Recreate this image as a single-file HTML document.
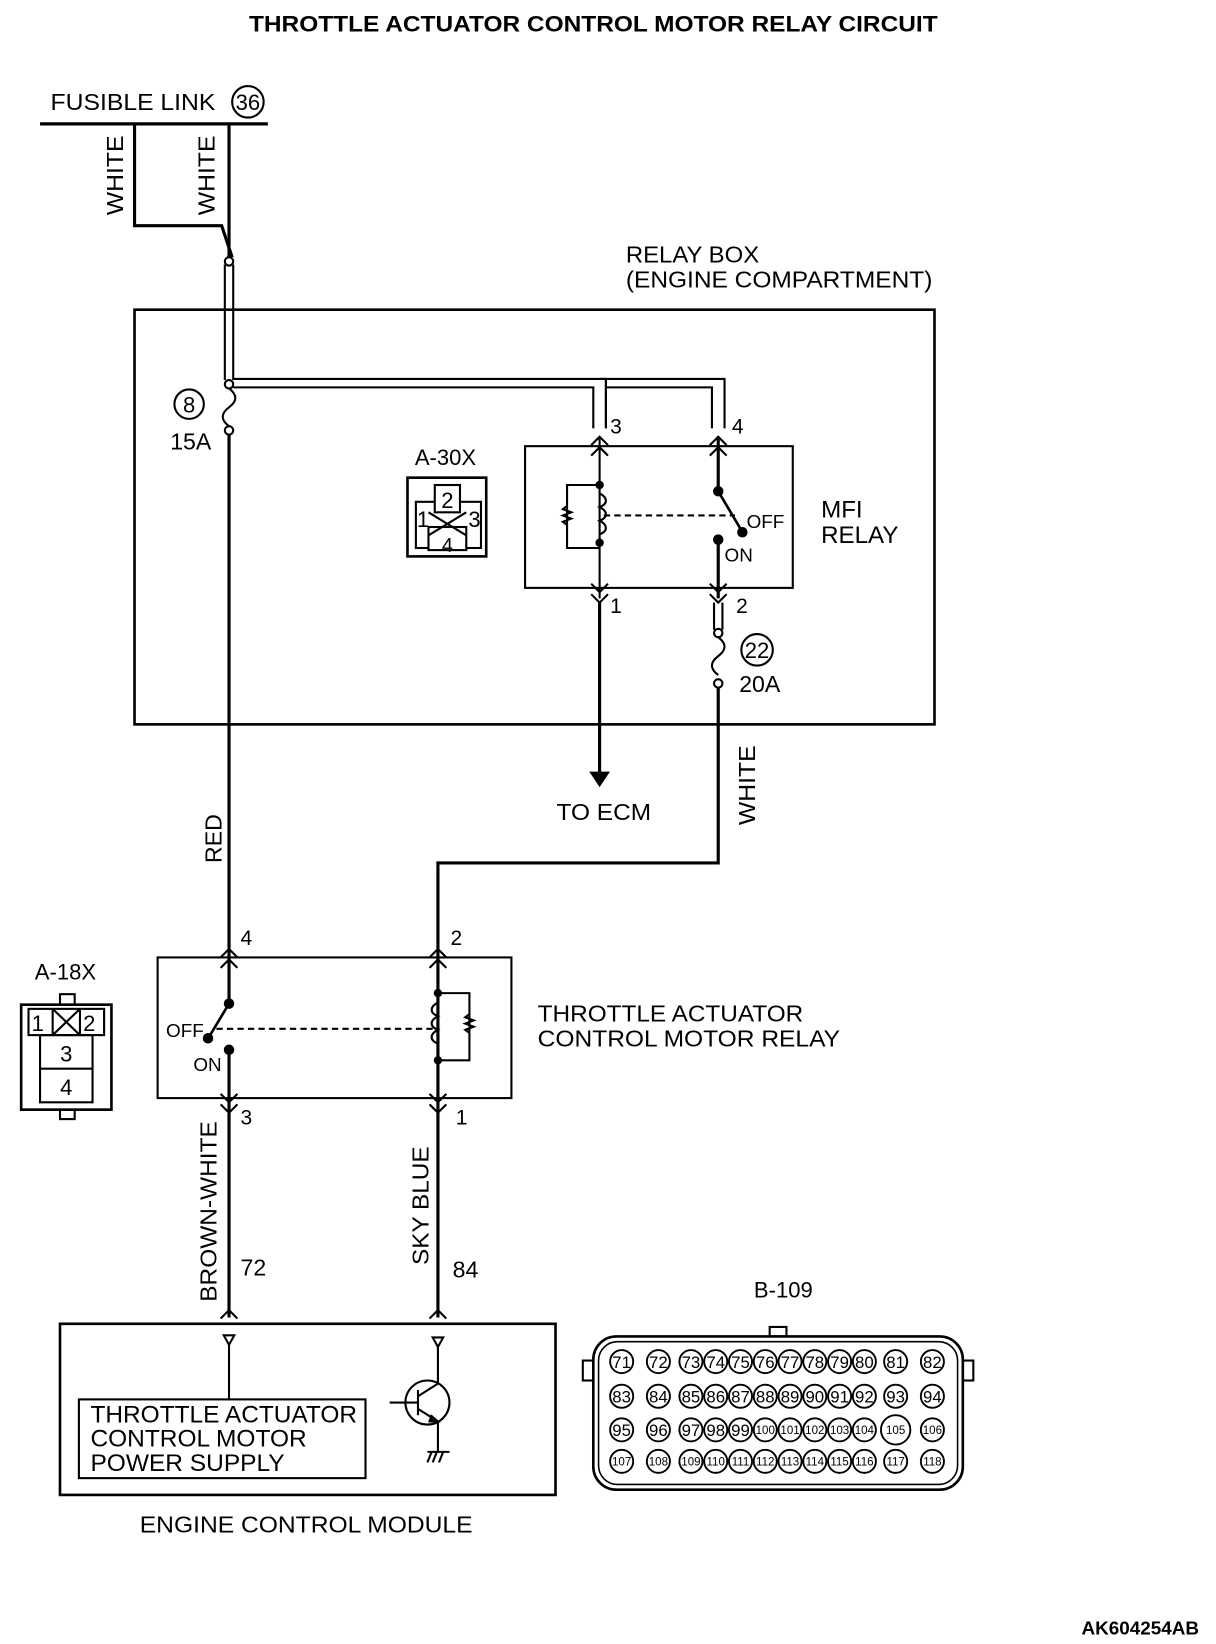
<!DOCTYPE html>
<html><head><meta charset="utf-8"><style>
html,body{margin:0;padding:0;background:#fff;}
svg{display:block}
text{font-family:"Liberation Sans",sans-serif;fill:#000}
</style></head><body>
<svg width="1216" height="1644" viewBox="0 0 1158 1566" xmlns="http://www.w3.org/2000/svg">
<g stroke="#000" fill="none" stroke-width="2">
<!-- title -->
<text x="237" y="30" font-size="21" font-weight="bold" textLength="656" lengthAdjust="spacingAndGlyphs" stroke="none">THROTTLE ACTUATOR CONTROL MOTOR RELAY CIRCUIT</text>
<!-- fusible link -->
<text x="48" y="105" font-size="22" textLength="157" lengthAdjust="spacingAndGlyphs" stroke="none">FUSIBLE LINK</text>
<circle cx="236" cy="97" r="15"/>
<text x="236" y="105" font-size="21" text-anchor="middle" stroke="none">36</text>
<line x1="38" y1="118" x2="255" y2="118" stroke-width="3"/>
<polyline points="128,118 128,215 211,215 221,245" stroke-width="3"/>
<line x1="218" y1="118" x2="218" y2="245" stroke-width="3"/>
<text transform="translate(117,205) rotate(-90)" font-size="22" textLength="76" lengthAdjust="spacingAndGlyphs" stroke="none">WHITE</text>
<text transform="translate(204,205) rotate(-90)" font-size="22" textLength="76" lengthAdjust="spacingAndGlyphs" stroke="none">WHITE</text>
<!-- shielded double wire -->
<line x1="214" y1="252" x2="214" y2="362"/>
<line x1="222" y1="252" x2="222" y2="362"/>
<circle cx="218" cy="249" r="4" fill="#fff"/>
<path d="M222,361 H577 V408 M222,369 H565 V408"/>
<path d="M577,361 V408"/>
<path d="M571,361 H690 V408 M577,369 H678 V408"/>
<circle cx="218" cy="366" r="4" fill="#fff"/>
<!-- relay box -->
<text x="596" y="250" font-size="22" textLength="127" lengthAdjust="spacingAndGlyphs" stroke="none">RELAY BOX</text>
<text x="596" y="274" font-size="22" textLength="292" lengthAdjust="spacingAndGlyphs" stroke="none">(ENGINE COMPARTMENT)</text>
<rect x="128" y="295" width="762" height="395" stroke-width="2.5"/>
<!-- fuse 8 -->
<path d="M218,370 c8,6 8,12 0,18 c-8,6 -8,12 0,18"/>
<circle cx="218" cy="410" r="4" fill="#fff"/>
<circle cx="180" cy="385" r="14"/>
<text x="180" y="393" font-size="21" text-anchor="middle" stroke="none">8</text>
<text x="162" y="428" font-size="22" stroke="none">15A</text>
<line x1="218" y1="414" x2="218" y2="905" stroke-width="3"/>
<text transform="translate(211,822) rotate(-90)" font-size="22" stroke="none">RED</text>
<!-- A-30X -->
<text x="395" y="443" font-size="21" stroke="none">A-30X</text>
<rect x="388" y="455" width="75" height="75" stroke-width="2.5"/>
<rect x="396" y="478" width="62" height="44"/>
<rect x="414" y="462" width="24" height="26" fill="#fff"/>
<rect x="408" y="502" width="36" height="22" fill="#fff"/>
<path d="M408,488 L444,510 M444,488 L408,510"/>
<text x="397" y="502" font-size="21" stroke="none">1</text>
<text x="426" y="484" font-size="21" text-anchor="middle" stroke="none">2</text>
<text x="446" y="502" font-size="21" stroke="none">3</text>
<text x="426" y="526" font-size="19" text-anchor="middle" stroke="none">4</text>
<!-- MFI relay -->
<rect x="500" y="425" width="255" height="135"/>
<text x="581" y="413" font-size="20" stroke="none">3</text>
<text x="697" y="413" font-size="20" stroke="none">4</text>
<path d="M563,424 L571,416 L579,424 M563,434 L571,426 L579,434"/>
<path d="M676,424 L684,416 L692,424 M676,434 L684,426 L692,434"/>
<line x1="571" y1="416" x2="571" y2="570"/>
<circle cx="571" cy="462" r="3" fill="#000"/>
<circle cx="571" cy="517" r="3" fill="#000"/>
<path d="M571,462 H540 V522 H571"/>
<path d="M540,482 l-4,3 l8,3 l-8,3 l8,3 l-8,3 l4,3"/>
<path d="M571,470 c8,4 8,10 0,13 c8,4 8,10 0,13 c8,4 8,10 0,13" stroke="#000"/>
<line x1="575" y1="491" x2="700" y2="491" stroke-dasharray="6,4"/>
<line x1="684" y1="416" x2="684" y2="468" stroke-width="3"/>
<circle cx="684" cy="468" r="4" fill="#000"/>
<line x1="684" y1="468" x2="706" y2="505" stroke-width="2.5"/>
<circle cx="707" cy="507" r="4" fill="#000"/>
<circle cx="684" cy="514" r="4" fill="#000"/>
<line x1="684" y1="514" x2="684" y2="570" stroke-width="3"/>
<text x="711" y="503" font-size="18" stroke="none">OFF</text>
<text x="690" y="535" font-size="18" stroke="none">ON</text>
<text x="782" y="493" font-size="23" stroke="none">MFI</text>
<text x="782" y="517" font-size="23" stroke="none">RELAY</text>
<path d="M563,556 L571,564 L579,556 M563,566 L571,574 L579,566"/>
<path d="M676,556 L684,564 L692,556 M676,566 L684,574 L692,566"/>
<text x="581" y="584" font-size="20" stroke="none">1</text>
<text x="701" y="584" font-size="20" stroke="none">2</text>
<line x1="571" y1="574" x2="571" y2="738" stroke-width="3"/>
<path d="M563,736 L571,748 L579,736 Z" fill="#000"/>
<text x="530" y="781" font-size="22" textLength="90" lengthAdjust="spacingAndGlyphs" stroke="none">TO ECM</text>
<!-- fuse 22 -->
<line x1="680" y1="574" x2="680" y2="600"/>
<line x1="688" y1="574" x2="688" y2="600"/>
<circle cx="684" cy="603" r="4" fill="#fff"/>
<path d="M684,607 c8,6 8,12 0,18 c-8,6 -8,12 0,18"/>
<circle cx="684" cy="651" r="4" fill="#fff"/>
<circle cx="721" cy="619" r="15"/>
<text x="721" y="627" font-size="21" text-anchor="middle" stroke="none">22</text>
<text x="704" y="659" font-size="22" stroke="none">20A</text>
<polyline points="684,655 684,822 417,822 417,905" stroke-width="3"/>
<text transform="translate(719,786) rotate(-90)" font-size="22" textLength="76" lengthAdjust="spacingAndGlyphs" stroke="none">WHITE</text>
<!-- throttle relay -->
<rect x="150" y="912" width="337" height="134"/>
<text x="229" y="900" font-size="20" stroke="none">4</text>
<text x="429" y="900" font-size="20" stroke="none">2</text>
<path d="M210,912 L218,904 L226,912 M210,922 L218,914 L226,922"/>
<path d="M409,912 L417,904 L425,912 M409,922 L417,914 L425,922"/>
<line x1="218" y1="905" x2="218" y2="955" stroke-width="3"/>
<circle cx="218" cy="956" r="4" fill="#000"/>
<line x1="218" y1="956" x2="200" y2="986" stroke-width="2.5"/>
<circle cx="198" cy="989" r="4" fill="#000"/>
<circle cx="218" cy="1000" r="4" fill="#000"/>
<line x1="218" y1="1000" x2="218" y2="1060" stroke-width="3"/>
<line x1="206" y1="980" x2="412" y2="980" stroke-dasharray="6,4"/>
<text x="158" y="988" font-size="18" stroke="none">OFF</text>
<text x="184" y="1020" font-size="18" stroke="none">ON</text>
<line x1="417" y1="905" x2="417" y2="1060" stroke-width="3"/>
<circle cx="417" cy="946" r="3" fill="#000"/>
<circle cx="417" cy="1010" r="3" fill="#000"/>
<path d="M417,946 H447 V1010 H417"/>
<path d="M447,966 l-4,3 l8,3 l-8,3 l8,3 l-8,3 l4,3"/>
<path d="M417,955 c-8,4 -8,10 0,13 c-8,4 -8,10 0,13 c-8,4 -8,10 0,13" stroke="#000"/>
<text x="512" y="973" font-size="22" textLength="253" lengthAdjust="spacingAndGlyphs" stroke="none">THROTTLE ACTUATOR</text>
<text x="512" y="997" font-size="22" textLength="288" lengthAdjust="spacingAndGlyphs" stroke="none">CONTROL MOTOR RELAY</text>
<path d="M210,1042 L218,1050 L226,1042 M210,1052 L218,1060 L226,1052"/>
<path d="M409,1042 L417,1050 L425,1042 M409,1052 L417,1060 L425,1052"/>
<text x="229" y="1071" font-size="20" stroke="none">3</text>
<text x="434" y="1071" font-size="20" stroke="none">1</text>
<!-- A-18X -->
<text x="33" y="933" font-size="21" stroke="none">A-18X</text>
<rect x="20" y="957" width="86" height="100" stroke-width="2.5"/>
<rect x="57" y="947" width="14" height="10"/>
<rect x="57" y="1057" width="14" height="9"/>
<rect x="27" y="961" width="72" height="25"/>
<rect x="38" y="986" width="50" height="64"/>
<line x1="38" y1="1018" x2="88" y2="1018"/>
<path d="M50,961 L76,986 M76,961 L50,986"/>
<line x1="50" y1="961" x2="50" y2="986"/>
<line x1="76" y1="961" x2="76" y2="986"/>
<text x="30" y="982" font-size="21" stroke="none">1</text>
<text x="79" y="982" font-size="21" stroke="none">2</text>
<text x="63" y="1011" font-size="21" text-anchor="middle" stroke="none">3</text>
<text x="63" y="1043" font-size="21" text-anchor="middle" stroke="none">4</text>
<!-- lower wires -->
<line x1="218" y1="1060" x2="218" y2="1255" stroke-width="3"/>
<line x1="417" y1="1060" x2="417" y2="1255" stroke-width="3"/>
<text transform="translate(206,1240) rotate(-90)" font-size="22" textLength="172" lengthAdjust="spacingAndGlyphs" stroke="none">BROWN-WHITE</text>
<text transform="translate(408,1205) rotate(-90)" font-size="22" textLength="113" lengthAdjust="spacingAndGlyphs" stroke="none">SKY BLUE</text>
<text x="229" y="1215" font-size="22" stroke="none">72</text>
<text x="431" y="1217" font-size="22" stroke="none">84</text>
<path d="M210,1256 L218,1248 L226,1256"/>
<path d="M409,1256 L417,1248 L425,1256"/>
<!-- ECM -->
<rect x="57" y="1261" width="472" height="163" stroke-width="2.5"/>
<path d="M213,1272 H223 L218,1281 Z"/>
<path d="M412,1274 H422 L417,1283 Z"/>
<line x1="218" y1="1281" x2="218" y2="1333"/>
<line x1="417" y1="1283" x2="417" y2="1318"/>
<rect x="75" y="1333" width="273" height="75"/>
<text x="86" y="1355" font-size="23" textLength="254" lengthAdjust="spacingAndGlyphs" stroke="none">THROTTLE ACTUATOR</text>
<text x="86" y="1378" font-size="23" textLength="206" lengthAdjust="spacingAndGlyphs" stroke="none">CONTROL MOTOR</text>
<text x="86" y="1401" font-size="23" textLength="185" lengthAdjust="spacingAndGlyphs" stroke="none">POWER SUPPLY</text>
<circle cx="407" cy="1336" r="21"/>
<line x1="371" y1="1336" x2="398" y2="1336"/>
<line x1="398" y1="1324" x2="398" y2="1348"/>
<path d="M398,1330 L417,1318 M398,1342 L417,1354"/>
<path d="M410,1348 L417,1354 L408,1354" fill="#000"/>
<line x1="417" y1="1354" x2="417" y2="1383"/>
<path d="M407,1383 H428 M407,1393 L411,1383 M412,1393 L416,1383 M418,1393 L422,1383"/>
<text x="133" y="1460" font-size="22" textLength="317" lengthAdjust="spacingAndGlyphs" stroke="none">ENGINE CONTROL MODULE</text>
<!-- B-109 -->
<text x="746" y="1236" font-size="21" text-anchor="middle" stroke="none">B-109</text>
<rect x="565" y="1273" width="352" height="146" rx="22" stroke-width="2.5"/>
<rect x="570" y="1278" width="342" height="136" rx="18" stroke-width="1.5"/>
<rect x="733" y="1264" width="16" height="9"/>
<rect x="555" y="1296" width="10" height="19"/>
<rect x="917" y="1296" width="10" height="19"/>
<g font-size="16" text-anchor="middle" stroke-width="1.8">
<circle cx="592" cy="1297" r="11"/><text x="592" y="1303" stroke="none">71</text>
<circle cx="627" cy="1297" r="11"/><text x="627" y="1303" stroke="none">72</text>
<circle cx="658" cy="1297" r="11"/><text x="658" y="1303" stroke="none">73</text>
<circle cx="681.6" cy="1297" r="11"/><text x="681.6" y="1303" stroke="none">74</text>
<circle cx="705.2" cy="1297" r="11"/><text x="705.2" y="1303" stroke="none">75</text>
<circle cx="728.8" cy="1297" r="11"/><text x="728.8" y="1303" stroke="none">76</text>
<circle cx="752.4" cy="1297" r="11"/><text x="752.4" y="1303" stroke="none">77</text>
<circle cx="776" cy="1297" r="11"/><text x="776" y="1303" stroke="none">78</text>
<circle cx="799.6" cy="1297" r="11"/><text x="799.6" y="1303" stroke="none">79</text>
<circle cx="823.2" cy="1297" r="11"/><text x="823.2" y="1303" stroke="none">80</text>
<circle cx="853" cy="1297" r="11"/><text x="853" y="1303" stroke="none">81</text>
<circle cx="888" cy="1297" r="11"/><text x="888" y="1303" stroke="none">82</text>
<circle cx="592" cy="1330" r="11"/><text x="592" y="1336" stroke="none">83</text>
<circle cx="627" cy="1330" r="11"/><text x="627" y="1336" stroke="none">84</text>
<circle cx="658" cy="1330" r="11"/><text x="658" y="1336" stroke="none">85</text>
<circle cx="681.6" cy="1330" r="11"/><text x="681.6" y="1336" stroke="none">86</text>
<circle cx="705.2" cy="1330" r="11"/><text x="705.2" y="1336" stroke="none">87</text>
<circle cx="728.8" cy="1330" r="11"/><text x="728.8" y="1336" stroke="none">88</text>
<circle cx="752.4" cy="1330" r="11"/><text x="752.4" y="1336" stroke="none">89</text>
<circle cx="776" cy="1330" r="11"/><text x="776" y="1336" stroke="none">90</text>
<circle cx="799.6" cy="1330" r="11"/><text x="799.6" y="1336" stroke="none">91</text>
<circle cx="823.2" cy="1330" r="11"/><text x="823.2" y="1336" stroke="none">92</text>
<circle cx="853" cy="1330" r="11"/><text x="853" y="1336" stroke="none">93</text>
<circle cx="888" cy="1330" r="11"/><text x="888" y="1336" stroke="none">94</text>
<circle cx="592" cy="1362" r="11"/><text x="592" y="1368" stroke="none">95</text>
<circle cx="627" cy="1362" r="11"/><text x="627" y="1368" stroke="none">96</text>
<circle cx="658" cy="1362" r="11"/><text x="658" y="1368" stroke="none">97</text>
<circle cx="681.6" cy="1362" r="11"/><text x="681.6" y="1368" stroke="none">98</text>
<circle cx="705.2" cy="1362" r="11"/><text x="705.2" y="1368" stroke="none">99</text>
<g font-size="11">
<circle cx="728.8" cy="1362" r="11"/><text x="728.8" y="1366" stroke="none">100</text>
<circle cx="752.4" cy="1362" r="11"/><text x="752.4" y="1366" stroke="none">101</text>
<circle cx="776" cy="1362" r="11"/><text x="776" y="1366" stroke="none">102</text>
<circle cx="799.6" cy="1362" r="11"/><text x="799.6" y="1366" stroke="none">103</text>
<circle cx="823.2" cy="1362" r="11"/><text x="823.2" y="1366" stroke="none">104</text>
<circle cx="853" cy="1362" r="14"/><text x="853" y="1366" stroke="none">105</text>
<circle cx="888" cy="1362" r="11"/><text x="888" y="1366" stroke="none">106</text>
<circle cx="592" cy="1392" r="11"/><text x="592" y="1396" stroke="none">107</text>
<circle cx="627" cy="1392" r="11"/><text x="627" y="1396" stroke="none">108</text>
<circle cx="658" cy="1392" r="11"/><text x="658" y="1396" stroke="none">109</text>
<circle cx="681.6" cy="1392" r="11"/><text x="681.6" y="1396" stroke="none">110</text>
<circle cx="705.2" cy="1392" r="11"/><text x="705.2" y="1396" stroke="none">111</text>
<circle cx="728.8" cy="1392" r="11"/><text x="728.8" y="1396" stroke="none">112</text>
<circle cx="752.4" cy="1392" r="11"/><text x="752.4" y="1396" stroke="none">113</text>
<circle cx="776" cy="1392" r="11"/><text x="776" y="1396" stroke="none">114</text>
<circle cx="799.6" cy="1392" r="11"/><text x="799.6" y="1396" stroke="none">115</text>
<circle cx="823.2" cy="1392" r="11"/><text x="823.2" y="1396" stroke="none">116</text>
<circle cx="853" cy="1392" r="11"/><text x="853" y="1396" stroke="none">117</text>
<circle cx="888" cy="1392" r="11"/><text x="888" y="1396" stroke="none">118</text>
</g>
</g>
<text x="1142" y="1557" font-size="18" font-weight="bold" text-anchor="end" stroke="none">AK604254AB</text>
</g>
</svg>
</body></html>
